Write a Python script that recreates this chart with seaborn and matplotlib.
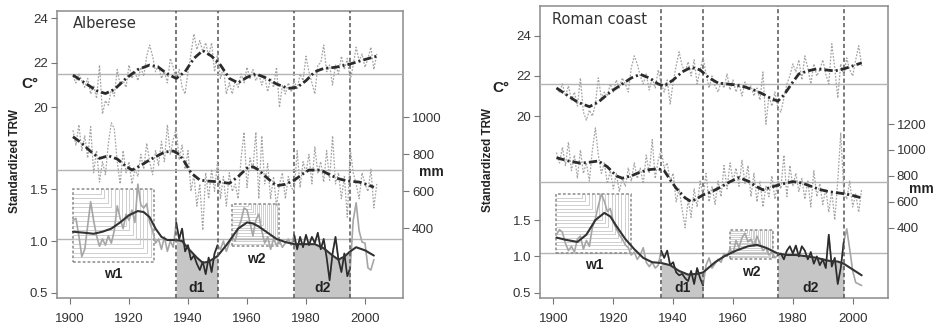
import numpy as np
import pandas as pd
import matplotlib
matplotlib.use("Agg")
import matplotlib.pyplot as plt
from matplotlib.patches import Rectangle
import seaborn as sns

sns.set_style("ticks")
plt.rcParams["font.family"] = ["Liberation Sans", "DejaVu Sans"]
plt.rcParams["lines.scale_dashes"] = False

# ---------------- Alberese ----------------
alb_temp = [21.4, 21.1, 21.5, 21.2, 20.9, 21.3, 20.6, 21.0, 20.4, 21.9,
            19.7, 20.3, 20.1, 20.8, 20.5, 21.7, 21.0, 21.2, 20.9, 21.9,
            21.3, 21.6, 21.2, 21.8, 21.4, 22.3, 22.8, 22.3, 21.6, 21.9,
            21.3, 21.6, 21.1, 22.2, 21.8, 21.2, 21.7, 20.9, 20.6, 21.6,
            22.4, 23.3, 22.6, 23.0, 22.5, 22.9, 22.3, 22.9, 21.6, 22.4,
            21.3, 21.8, 20.6, 21.1, 20.6, 21.2, 20.9, 21.5, 21.1, 21.8,
            21.3, 21.7, 21.2, 21.5, 21.0, 21.4, 20.7, 21.3, 20.9, 21.8,
            20.0, 21.0, 20.6, 21.1, 20.7, 21.2, 20.8, 21.5, 21.2, 22.3,
            21.6, 21.1, 20.6, 21.9, 22.0, 22.8, 21.6, 21.9, 21.0, 21.9,
            21.5, 22.3, 21.7, 22.2, 21.2, 21.9, 22.7, 22.1, 22.4, 21.8,
            22.2, 22.7, 21.7, 22.4]
alb_temp_sm_years = [1901, 1905, 1909, 1912, 1915, 1919, 1923, 1927, 1930, 1933, 1936,
                     1939, 1942, 1945, 1948, 1951, 1954, 1957, 1960, 1963, 1966, 1970,
                     1974, 1977, 1980, 1983, 1986, 1990, 1995, 2000, 2004]
alb_temp_sm = [21.45, 21.1, 20.75, 20.62, 20.8, 21.3, 21.7, 21.9, 21.8, 21.5, 21.3,
               21.6, 22.2, 22.55, 22.3, 21.9, 21.3, 21.1, 21.35, 21.5, 21.35, 21.05,
               20.85, 20.9, 21.2, 21.6, 21.75, 21.8, 21.95, 22.15, 22.3]

alb_prec = [930, 850, 960, 820, 900, 780, 950, 700, 820, 650,
            760, 690, 860, 970, 940, 760, 640, 820, 700, 760,
            640, 720, 680, 800, 720, 860, 760, 690, 820, 740,
            870, 760, 960, 800, 880, 940, 770, 850, 720, 820,
            600, 690, 520, 640, 390, 700, 560, 720, 600, 760,
            560, 680, 520, 700, 600, 640, 560, 780, 920, 620,
            780, 720, 920, 560, 900, 640, 750, 560, 680, 520,
            640, 700, 560, 680, 620, 600, 820, 620, 760, 700,
            800, 640, 840, 700, 760, 650, 820, 660, 900, 640,
            700, 560, 680, 460, 830, 700, 640, 560, 700, 640,
            600, 720, 510, 640]
alb_prec_sm_years = [1901, 1904, 1907, 1910, 1913, 1916, 1919, 1921, 1924, 1927, 1930,
                     1932, 1935, 1937, 1939, 1941, 1944, 1947, 1950, 1952, 1954, 1957,
                     1960, 1962, 1964, 1967, 1970, 1973, 1976, 1979, 1981, 1985, 1988,
                     1991, 1994, 1998, 2001, 2003]
alb_prec_sm = [895, 860, 815, 778, 792, 775, 735, 715, 740, 770, 795,
               812, 818, 800, 755, 700, 661, 655, 652, 648, 643, 680,
               725, 733, 715, 670, 630, 638, 660, 695, 715, 715, 690,
               668, 656, 650, 635, 622]

alb_trw = [1.20, 1.22, 1.05, 0.85, 0.92, 1.15, 1.38, 1.20, 1.05, 0.95,
           1.02, 0.96, 1.05, 0.98, 1.10, 1.34, 1.22, 1.12, 1.26, 1.20,
           1.30, 1.18, 1.55, 1.35, 1.32, 1.36, 1.18, 1.10, 0.98, 1.02,
           0.92, 1.04, 0.90, 1.00, 0.94, 1.18, 1.02, 1.12, 0.90, 0.96,
           0.82, 0.86, 0.78, 0.72, 0.80, 0.68, 0.84, 0.70, 0.88, 0.96,
           0.92, 1.00, 0.90, 0.98, 1.04, 1.00, 1.12, 1.20, 1.32, 1.30,
           1.18, 1.05, 1.20, 1.26, 1.10, 0.98, 1.04, 0.92, 1.02, 0.96,
           1.00, 0.94, 0.98, 1.02, 0.96, 1.06, 0.92, 1.04, 0.94, 1.06,
           0.96, 1.04, 0.98, 1.08, 0.92, 1.02, 0.84, 0.62, 0.88, 1.04,
           0.82, 0.70, 0.88, 0.66, 0.74, 1.20, 1.37, 1.10, 0.99, 0.98,
           0.74, 0.72, 0.82]
alb_trw_sm_years = [1901, 1905, 1908, 1911, 1914, 1917, 1920, 1923, 1925, 1927, 1929,
                    1931, 1933, 1936, 1938, 1940, 1943, 1945, 1947, 1950, 1953, 1955,
                    1957, 1960, 1962, 1964, 1967, 1970, 1973, 1976, 1980, 1983, 1986,
                    1989, 1991, 1993, 1995, 1997, 2000, 2003]
alb_trw_sm = [1.09, 1.08, 1.07, 1.09, 1.12, 1.18, 1.25, 1.29, 1.28, 1.23, 1.12,
              1.04, 1.01, 1.01, 1.00, 0.93, 0.84, 0.79, 0.80, 0.855, 0.96, 1.04,
              1.12, 1.18, 1.17, 1.14, 1.08, 1.02, 0.99, 0.97, 0.97, 0.97, 0.93,
              0.86, 0.82, 0.85, 0.90, 0.94, 0.91, 0.86]
alb_dry = [(1936, 1950), (1976, 1995)]
alb_wet = [(1901, 1928.5), (1955, 1971)]
alb_wet_trw = [(0.80, 1.50), (0.95, 1.36)]
alb_refs = (1.02, 21.5, 715)

# ---------------- Roman coast ----------------
rom_temp = [21.4, 21.2, 21.6, 21.0, 21.5, 20.8, 21.2, 20.5, 21.9, 20.2,
            19.8, 20.3, 20.0, 20.6, 21.9, 20.9, 21.2, 21.0, 21.6, 21.2,
            21.8, 21.4, 21.9, 21.6, 21.2, 22.4, 23.0, 22.6, 22.0, 21.6,
            22.1, 21.3, 21.9, 21.4, 22.3, 21.6, 21.2, 21.8, 20.6, 21.7,
            22.5, 23.2, 22.5, 22.2, 22.7, 22.0, 22.8, 21.6, 22.3, 22.9,
            22.1, 21.4, 22.0, 21.5, 21.2, 21.7, 21.4, 22.1, 21.3, 21.8,
            21.2, 21.6, 21.0, 21.7, 21.3, 21.5, 21.0, 21.4, 20.8, 22.2,
            19.6, 21.0, 20.5, 21.2, 20.4, 20.2, 20.9, 21.6, 22.0, 22.6,
            22.2, 22.8, 21.8, 23.0, 22.4, 21.6, 22.6, 22.0, 22.3, 22.8,
            22.1, 21.6, 23.6, 22.4, 20.9, 22.6, 22.0, 22.9, 22.3, 22.0,
            22.8, 23.5, 22.5]
rom_temp_sm_years = [1901, 1904, 1908, 1912, 1915, 1919, 1923, 1926, 1929, 1932, 1935,
                     1937, 1940, 1943, 1946, 1949, 1952, 1955, 1958, 1961, 1964, 1967,
                     1970, 1973, 1975, 1977, 1980, 1982, 1985, 1988, 1991, 1994, 1997,
                     2000, 2003]
rom_temp_sm = [21.4, 21.1, 20.7, 20.47, 20.7, 21.2, 21.6, 21.9, 22.08, 21.9, 21.6,
               21.5, 21.8, 22.2, 22.43, 22.3, 21.9, 21.65, 21.6, 21.55, 21.45, 21.3,
               21.1, 20.85, 20.75, 21.05, 21.7, 22.1, 22.25, 22.35, 22.3, 22.25, 22.35,
               22.5, 22.65]

rom_prec = [980, 900, 1020, 880, 1060, 840, 960, 780, 1000, 820,
            900, 760, 1000, 1170, 960, 820, 900, 740, 840, 700,
            820, 680, 780, 720, 860, 760, 900, 780, 860, 740,
            960, 820, 1080, 780, 920, 1000, 860, 900, 760, 820,
            600, 700, 540, 400, 620, 480, 700, 560, 760, 640,
            820, 600, 720, 580, 760, 640, 880, 700, 900, 760,
            860, 720, 920, 740, 880, 640, 820, 600, 760, 560,
            720, 640, 800, 620, 760, 700, 960, 640, 880, 720,
            820, 680, 780, 620, 760, 560, 840, 640, 740, 580,
            700, 520, 680, 460, 760, 1130, 700, 620, 760, 560,
            660, 520, 700]
rom_prec_sm_years = [1901, 1905, 1909, 1912, 1915, 1918, 1921, 1923, 1926, 1929, 1932,
                     1935, 1937, 1939, 1941, 1944, 1946, 1948, 1950, 1953, 1956, 1959,
                     1962, 1965, 1968, 1970, 1973, 1976, 1980, 1983, 1986, 1989, 1992,
                     1996, 1999, 2003]
rom_prec_sm = [940, 915, 898, 905, 915, 870, 800, 782, 800, 830, 848,
               855, 840, 770, 705, 630, 602, 625, 653, 680, 715, 755,
               787, 760, 715, 692, 715, 735, 756, 745, 720, 695, 678,
               666, 655, 630]

rom_trw = [1.30, 1.37, 1.33, 1.18, 1.08, 1.14, 1.06, 1.24, 1.28, 1.10,
           1.22, 1.14, 1.40, 1.52, 1.70, 1.86, 1.76, 1.62, 1.66, 1.48,
           1.38, 1.30, 1.24, 1.16, 1.12, 1.02, 1.06, 0.96, 1.02, 1.12,
           0.92, 0.86, 0.92, 0.84, 0.88, 1.08, 0.98, 1.08, 0.88, 0.92,
           0.78, 0.74, 0.76, 0.70, 0.66, 0.80, 0.62, 0.84, 0.70, 0.60,
           0.88, 0.98, 0.84, 0.90, 0.96, 0.92, 1.04, 1.00, 1.10, 1.04,
           1.22, 1.12, 1.26, 1.32, 1.20, 1.24, 1.14, 1.28, 1.18, 1.08,
           1.12, 1.02, 1.06, 0.98, 1.02, 1.04, 0.96, 1.08, 1.14, 1.04,
           1.15, 1.00, 1.14, 1.08, 0.96, 1.06, 0.90, 1.00, 0.88, 0.96,
           0.84, 1.30, 0.86, 0.98, 0.62, 0.84, 1.20, 1.38, 1.10, 0.80,
           0.64, 0.62, 0.60]
rom_trw_sm_years = [1901, 1904, 1908, 1911, 1914, 1917, 1919, 1921, 1924, 1927, 1930,
                    1933, 1936, 1939, 1942, 1945, 1948, 1950, 1954, 1957, 1961, 1965,
                    1968, 1971, 1975, 1978, 1981, 1985, 1988, 1992, 1995, 1997, 2000,
                    2003]
rom_trw_sm = [1.26, 1.23, 1.20, 1.30, 1.50, 1.60, 1.55, 1.42, 1.24, 1.10, 0.98,
              0.92, 0.91, 0.88, 0.80, 0.75, 0.76, 0.78, 0.92, 1.00, 1.08, 1.14,
              1.16, 1.12, 1.04, 1.02, 1.02, 1.00, 0.98, 0.94, 0.93, 0.90, 0.82,
              0.74]
rom_dry = [(1936, 1950), (1975, 1997)]
rom_wet = [(1901, 1926), (1959, 1973.5)]
rom_wet_trw = [(1.05, 1.86), (0.96, 1.37)]
rom_refs = (1.05, 21.6, 756)

GRAY_LINE = "#a6a6a6"
DARK = "#2b2b2b"
REF = "#b4b4b4"
DASHDOT = (0, (6, 2.2, 1.5, 2.2))
DOTTED = (0, (1.3, 1.1))


def series(vals):
    return pd.DataFrame({"year": np.arange(1901, 1901 + len(vals)), "v": vals})


def draw_panel(fig, rect, name, name_pos, lims, temp, temp_sm, prec, prec_sm,
               trw, trw_sm, dry, wet, wet_trw, refs, p_ticks):
    ax = fig.add_axes(rect)
    ax_t = ax.twinx()
    ax_p = ax.twinx()
    ax.set_xlim(*lims[0])
    ax.set_ylim(*lims[1])
    ax_t.set_ylim(*lims[2])
    ax_p.set_ylim(*lims[3])

    ax.axhline(refs[0], color=REF, lw=1, zorder=1)
    ax_t.axhline(refs[1], color=REF, lw=1, zorder=1)
    ax_p.axhline(refs[2], color=REF, lw=1, zorder=1)

    trw_df = series(trw)
    sm_df = pd.DataFrame({"year": trw_sm[0], "v": trw_sm[1]})

    # dry periods: shaded under the smoothed curve
    for (a, b), lab in zip(dry, ["d1", "d2"]):
        seg = sm_df[(sm_df.year >= a) & (sm_df.year <= b)]
        ax.fill_between(seg.year, lims[1][0], seg.v, color="#c6c6c6", lw=0, zorder=2)
        for xv in (a, b):
            ax.axvline(xv, color="#555555", lw=1.1, ls=(0, (3, 2)), zorder=7)
        ax.annotate(lab, xy=((a + b) / 2, 0), xycoords=("data", "axes fraction"),
                    xytext=(0, 7), textcoords="offset points", ha="center",
                    va="center", fontweight="bold", fontsize=10, color="#222")

    # wet periods: dotted boxes with nested corner hatching
    for (a, b), (lo, hi), lab in zip(wet, wet_trw, ["w1", "w2"]):
        n = 16
        for k in range(1, n):
            xk = a + (b - a) * (0.3 + 0.7 * k / n)
            yk = hi - (hi - lo) * k / n
            ax.plot([a, xk, xk], [yk, yk, hi], color="#c8c8c8", lw=0.6, zorder=2)
        ax.add_patch(Rectangle((a, lo), b - a, hi - lo, fill=False, ec="#8a8a8a",
                               lw=1.1, ls=(0, (2, 1.5)), zorder=3))
        ax.annotate(lab, xy=((a + b) / 2, lo), xytext=(0, -4), textcoords="offset points",
                    ha="center", va="top", fontweight="bold", fontsize=10, color="#222")

    # tree-ring widths
    sns.lineplot(data=trw_df, x="year", y="v", ax=ax, color=GRAY_LINE, lw=1.2, zorder=4)
    for a, b in dry:
        seg = trw_df[(trw_df.year >= a) & (trw_df.year <= b)]
        sns.lineplot(data=seg, x="year", y="v", ax=ax, color=DARK, lw=1.2, zorder=5)
    sns.lineplot(data=sm_df, x="year", y="v", ax=ax, color="#333333", lw=1.5, zorder=6)

    # temperature
    sns.lineplot(data=series(temp), x="year", y="v", ax=ax_t, color="#a4a4a4", lw=0.9, ls=DOTTED)
    sns.lineplot(x=temp_sm[0], y=temp_sm[1], ax=ax_t, color=DARK, lw=2.0, ls=DASHDOT)

    # precipitation
    sns.lineplot(data=series(prec), x="year", y="v", ax=ax_p, color="#a4a4a4", lw=0.9, ls=DOTTED)
    sns.lineplot(x=prec_sm[0], y=prec_sm[1], ax=ax_p, color=DARK, lw=2.0, ls=DASHDOT)

    for s in ax.spines.values():
        s.set_color("#8c8c8c")
        s.set_linewidth(1.1)
    for a_ in (ax_t, ax_p):
        for s in a_.spines.values():
            s.set_visible(False)
    ax_t.yaxis.tick_left()
    ax.set_xticks(range(1900, 2001, 20))
    ax.set_yticks([0.5, 1.0, 1.5])
    ax.set_yticklabels(["0.5", "1.0", "1.5"])
    ax_t.set_yticks([20, 22, 24])
    ax_p.set_yticks(p_ticks)
    for a_ in (ax, ax_t, ax_p):
        a_.tick_params(length=4.5, width=0.8, color="#777777", labelsize=9.5,
                       labelcolor="#333333", pad=2)
        a_.set_xlabel("")
        a_.set_ylabel("")
    ax.tick_params(axis="x", pad=6)
    ax.text(name_pos[0], name_pos[1], name, transform=ax.transAxes, ha="left",
            va="center", fontsize=10.5, color="#333333", family="DejaVu Sans")
    return ax


fig = plt.figure(figsize=(9.38, 3.33), dpi=100)

draw_panel(fig, [0.0608, 0.105, 0.3689, 0.862], "Alberese", (0.046, 0.958),
           [(1895.6, 2012.9), (0.449, 3.224), (11.43, 24.33), (23, 1575)],
           alb_temp, (alb_temp_sm_years, alb_temp_sm), alb_prec,
           (alb_prec_sm_years, alb_prec_sm), alb_trw, (alb_trw_sm_years, alb_trw_sm),
           alb_dry, alb_wet, alb_wet_trw, alb_refs, [400, 600, 800, 1000])

draw_panel(fig, [0.5757, 0.105, 0.3707, 0.877], "Roman coast", (0.034, 0.955),
           [(1895.5, 2011.7), (0.427, 4.45), (10.95, 25.48), (-142, 2110)],
           rom_temp, (rom_temp_sm_years, rom_temp_sm), rom_prec,
           (rom_prec_sm_years, rom_prec_sm), rom_trw, (rom_trw_sm_years, rom_trw_sm),
           rom_dry, rom_wet, rom_wet_trw, rom_refs, [400, 600, 800, 1000, 1200])

# axis titles
for x, y in [(15, 161), (488, 160)]:
    fig.text(x / 938, 1 - y / 333, "Standardized TRW", rotation=90, ha="center",
             va="center", fontweight="bold", fontsize=8.5, color="#222")
for x, y in [(30, 84), (501, 88)]:
    fig.text(x / 938, 1 - y / 333, "C°", ha="center", va="center",
             fontweight="bold", fontsize=11, color="#222")
for x, y in [(431, 172), (921, 189)]:
    fig.text(x / 938, 1 - y / 333, "mm", ha="center", va="center",
             fontweight="bold", fontsize=10, color="#222")

fig.savefig("out.png", dpi=100)
